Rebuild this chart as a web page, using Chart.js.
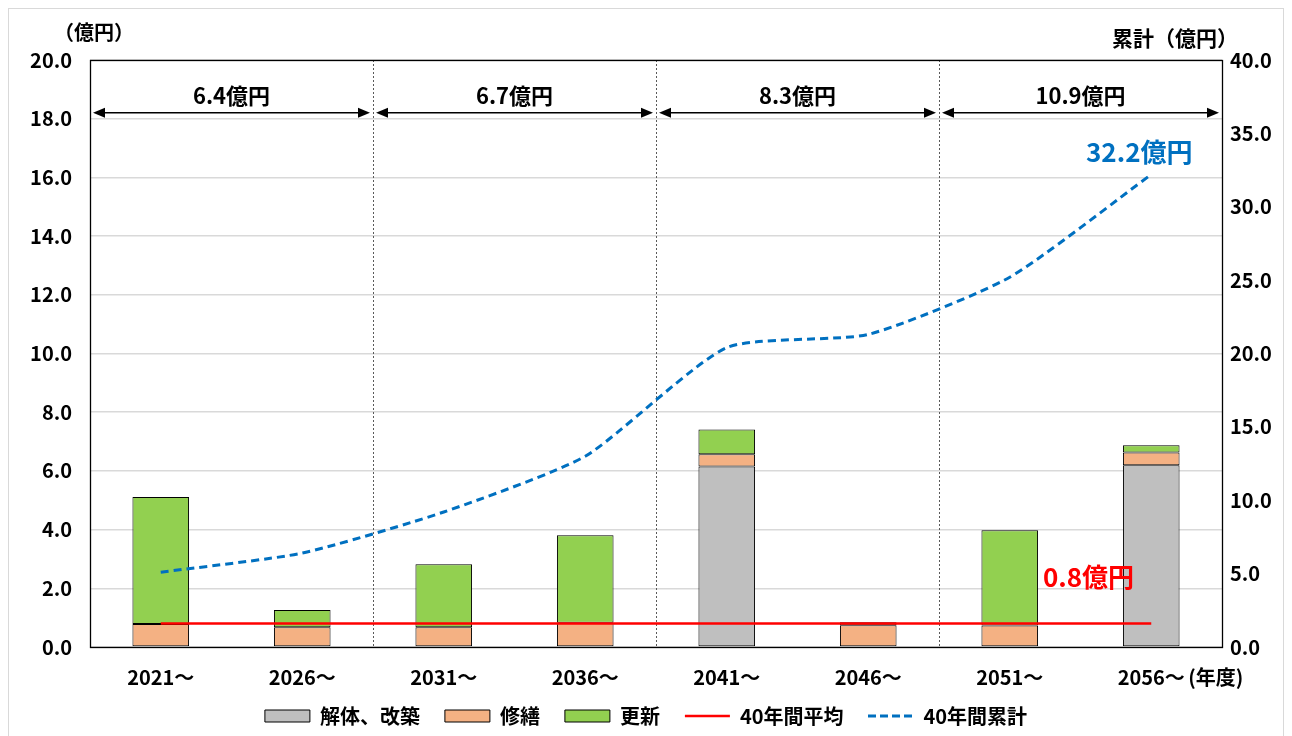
<!DOCTYPE html>
<html lang="ja">
<head>
<meta charset="utf-8">
<script src="https://cdn.jsdelivr.net/npm/chart.js@4.4.1/dist/chart.umd.min.js"></script>
<style>
  html, body { margin: 0; padding: 0; background: #fff; }
  #wrap { width: 1292px; height: 736px; }
</style>
</head>
<body>
<div id="wrap"><canvas id="myChart" width="1292" height="736"></canvas></div>
<script>
// 5年ごとの費用（億円）
var periods = ['2021～', '2026～', '2031～', '2036～', '2041～', '2046～', '2051～', '2056～'];
var kaitai = [null, null, null, null, 6.15, null, null, 6.19];
var shuzen = [0.78, 0.67, 0.67, 0.83, 0.42, 0.74, 0.73, 0.44];
var koushin = [4.33, 0.59, 2.15, 2.98, 0.84, 0.10, 3.25, 0.24];
var average = [0.8, 0.8, 0.8, 0.8, 0.8, 0.8, 0.8, 0.8];
var cumulative = [5.1, 6.4, 9.2, 13.0, 20.4, 21.3, 25.2, 32.2];
// 10年ごとの合計
var sectionTotals = ['6.4億円', '6.7億円', '8.3億円', '10.9億円'];

var FONT = '"Noto Sans CJK JP", "Noto Sans", sans-serif';

// 凡例用の破線アイコン
function dashIcon(color) {
    var c = document.createElement('canvas');
    c.width = 46;
    c.height = 6;
    var g = c.getContext('2d');
    g.strokeStyle = color;
    g.lineWidth = 3;
    g.setLineDash([8, 4]);
    g.beginPath();
    g.moveTo(0, 3);
    g.lineTo(46, 3);
    g.stroke();
    return c;
}

function drawArrow(ctx, x1, x2, y) {
    ctx.beginPath();
    ctx.moveTo(x1 + 8, y);
    ctx.lineTo(x2 - 8, y);
    ctx.stroke();
    ctx.beginPath();
    ctx.moveTo(x1, y);
    ctx.lineTo(x1 + 12, y - 5);
    ctx.lineTo(x1 + 12, y + 5);
    ctx.closePath();
    ctx.fill();
    ctx.beginPath();
    ctx.moveTo(x2, y);
    ctx.lineTo(x2 - 12, y - 5);
    ctx.lineTo(x2 - 12, y + 5);
    ctx.closePath();
    ctx.fill();
}

function sectionBounds(chart) {
    var x = chart.scales.x;
    var area = chart.chartArea;
    var bounds = [area.left];
    for (var i = 2; i < periods.length; i += 2) {
        bounds.push((x.getPixelForValue(i - 1) + x.getPixelForValue(i)) / 2);
    }
    bounds.push(area.right);
    return bounds;
}

var overlayPlugin = {
    id: 'overlay',
    beforeDraw: function(chart) {
        var ctx = chart.ctx;
        ctx.save();
        ctx.fillStyle = '#fff';
        ctx.fillRect(0, 0, chart.width, chart.height);
        ctx.strokeStyle = '#d9d9d9';
        ctx.lineWidth = 1;
        ctx.strokeRect(8.5, 8.5, chart.width - 17, chart.height);
        ctx.restore();
    },
    beforeDatasetsDraw: function(chart) {
        var ctx = chart.ctx;
        var area = chart.chartArea;
        var bounds = sectionBounds(chart);
        ctx.save();
        // 区切り線
        ctx.strokeStyle = '#595959';
        ctx.lineWidth = 1;
        ctx.setLineDash([2, 2]);
        for (var i = 1; i < bounds.length - 1; i++) {
            var bx = Math.round(bounds[i]) + 0.5;
            ctx.beginPath();
            ctx.moveTo(bx, area.top);
            ctx.lineTo(bx, area.bottom);
            ctx.stroke();
        }
        ctx.setLineDash([]);
        ctx.strokeStyle = '#000';
        ctx.lineWidth = 1.3;
        ctx.strokeRect(Math.round(area.left) + 0.5, Math.round(area.top) + 0.5,
            Math.round(area.right - area.left), Math.round(area.bottom - area.top));
        ctx.restore();
    },
    afterDatasetsDraw: function(chart) {
        var ctx = chart.ctx;
        var y = chart.scales.y;
        var y2 = chart.scales.y2;
        var x = chart.scales.x;
        var bounds = sectionBounds(chart);
        ctx.save();
        ctx.fillStyle = '#000';
        ctx.strokeStyle = '#000';
        ctx.lineWidth = 1.5;
        var arrowY = y.getPixelForValue(18.2);
        var labelY = y.getPixelForValue(18.77);
        ctx.font = 'bold 22px ' + FONT;
        ctx.textAlign = 'center';
        ctx.textBaseline = 'middle';
        for (var i = 0; i < sectionTotals.length; i++) {
            drawArrow(ctx, bounds[i] + 3, bounds[i + 1] - 3, arrowY);
            ctx.fillText(sectionTotals[i], (bounds[i] + bounds[i + 1]) / 2, labelY);
        }
        // 注記
        ctx.font = 'bold 26px ' + FONT;
        ctx.fillStyle = '#0070C0';
        ctx.fillText('32.2億円', x.getPixelForValue(7) - 12, y2.getPixelForValue(32.2) - 22);
        ctx.fillStyle = '#FF0000';
        ctx.fillText('0.8億円', (x.getPixelForValue(6) + x.getPixelForValue(7)) / 2 + 8, y.getPixelForValue(2.38));
        // 軸タイトル
        ctx.fillStyle = '#000';
        ctx.font = 'bold 20px ' + FONT;
        ctx.fillText('（億円）', 94, 32);
        ctx.font = 'bold 21px ' + FONT;
        ctx.fillText('累計（億円）', 1175, 38);
        ctx.textAlign = 'left';
        ctx.font = 'bold 20px ' + FONT;
        ctx.fillText('(年度)', x.getPixelForValue(7) + 37, 677);
        ctx.restore();
    }
};

var ctx = document.getElementById('myChart').getContext('2d');
var myChart = new Chart(ctx, {
    type: 'bar',
    data: {
        labels: periods,
        datasets: [{
            label: '解体、改築',
            data: kaitai,
            backgroundColor: '#BFBFBF',
            borderColor: '#000',
            borderWidth: 1,
            borderSkipped: false,
            pointStyle: 'rect',
            stack: 'cost'
        }, {
            label: '修繕',
            data: shuzen,
            backgroundColor: '#F4B183',
            borderColor: '#000',
            borderWidth: 1,
            borderSkipped: false,
            pointStyle: 'rect',
            stack: 'cost'
        }, {
            label: '更新',
            data: koushin,
            backgroundColor: '#92D050',
            borderColor: '#000',
            borderWidth: 1,
            borderSkipped: false,
            pointStyle: 'rect',
            stack: 'cost'
        }, {
            type: 'line',
            label: '40年間平均',
            data: average,
            borderColor: '#FF0000',
            backgroundColor: '#FF0000',
            borderWidth: 2.5,
            pointRadius: 0,
            pointStyle: 'line',
            order: -1,
            yAxisID: 'y'
        }, {
            type: 'line',
            label: '40年間累計',
            data: cumulative,
            borderColor: '#0070C0',
            backgroundColor: '#0070C0',
            borderWidth: 3,
            borderDash: [8, 5],
            tension: 0.2,
            pointRadius: 0,
            pointStyle: dashIcon('#0070C0'),
            order: -1,
            yAxisID: 'y2'
        }]
    },
    options: {
        responsive: false,
        animation: false,
        layout: { padding: { top: 60, left: 0, right: 0, bottom: 0 } },
        plugins: {
            legend: {
                position: 'bottom',
                labels: {
                    usePointStyle: true,
                    pointStyleWidth: 45,
                    boxHeight: 12,
                    padding: 15,
                    color: '#000',
                    font: { family: FONT, size: 20, weight: 'bold' },
                    sort: function(a, b) { return a.datasetIndex - b.datasetIndex; },
                    generateLabels: function(chart) {
                        var items = Chart.defaults.plugins.legend.labels.generateLabels(chart);
                        items.forEach(function(item, i) {
                            if (item.datasetIndex < chart.data.datasets.length - 1) {
                                item.text = item.text + '\u2002';
                            }
                        });
                        return items;
                    }
                }
            },
            tooltip: { enabled: false }
        },
        datasets: {
            bar: { categoryPercentage: 1, barPercentage: 0.4 }
        },
        scales: {
            x: {
                stacked: true,
                grid: { display: false },
                border: { display: false },
                ticks: {
                    color: '#000',
                    padding: 10,
                    maxRotation: 0,
                    font: { family: FONT, size: 20, weight: 'bold' }
                },
                afterFit: function(s) { s.height = 44; }
            },
            y: {
                stacked: true,
                min: 0,
                max: 20,
                grid: { color: '#d9d9d9', lineWidth: 1.5, drawTicks: false },
                border: { display: false },
                ticks: {
                    stepSize: 2,
                    color: '#000',
                    padding: 18,
                    font: { family: FONT, size: 20, weight: 'bold' },
                    callback: function(v) { return v.toFixed(1); }
                },
                afterFit: function(s) { s.width = 90; }
            },
            y2: {
                position: 'right',
                min: 0,
                max: 40,
                grid: { display: false, drawTicks: false },
                border: { display: false },
                ticks: {
                    stepSize: 5,
                    color: '#000',
                    padding: 8,
                    font: { family: FONT, size: 20, weight: 'bold' },
                    callback: function(v) { return v.toFixed(1); }
                },
                afterFit: function(s) { s.width = 70; }
            }
        }
    },
    plugins: [overlayPlugin]
});
</script>
</body>
</html>
